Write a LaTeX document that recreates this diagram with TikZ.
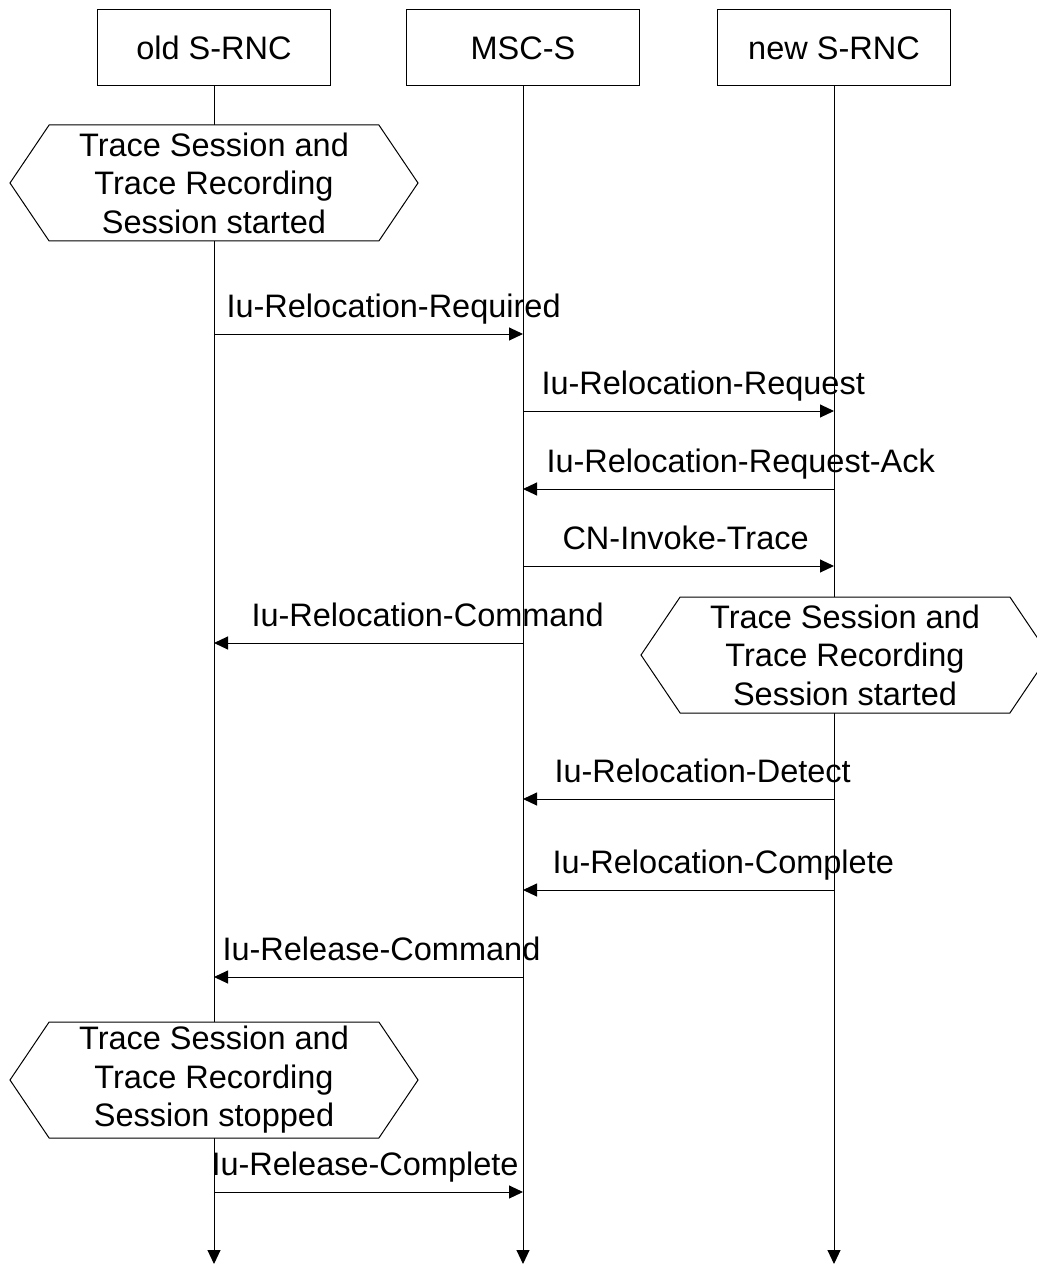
\documentclass[tikz,border=0pt]{standalone}
\usepackage{fontspec}
\setmainfont{Liberation Sans}
\usetikzlibrary{arrows.meta}
\usetikzlibrary{shapes.symbols}
\usetikzlibrary{calc}
\usetikzlibrary{positioning}

\begin{document}
\begin{tikzpicture}[x=1pt,y=-1pt,line width=1pt,
  font=\fontsize{32.5}{38.5}\selectfont,
  head/.style={draw,minimum width=233pt,minimum height=76pt,inner sep=0pt},
  cond/.style={draw,fill=white,shape=signal,signal to=west and east,signal pointer angle=112,
    minimum width=408pt,minimum height=116pt,inner sep=0pt,align=center},
  msg/.style={-{Triangle[length=14pt,width=13pt]}},
  lbl/.style={anchor=base west,inner sep=0pt}]
\useasboundingbox (0,0) rectangle (1036,1265);
\foreach \n/\x/\t in {old/214/old S-RNC, msc/523/MSC-S, new/834/new S-RNC} {
\node (\n) at (\x,48) [head] {\t};
\coordinate (\n end) at (\x,1264);
\draw[msg] (\n) -- (\n end);
}
\node (c1) at (214,183) [cond] {Trace Session and\\Trace Recording\\Session started};
\node (c2) at (845,655) [cond] {Trace Session and\\Trace Recording\\Session started};
\node (c3) at (214,1080) [cond] {Trace Session and\\Trace Recording\\Session stopped};
\foreach \y/\a/\b/\lx/\t [count=\i] in {
  334/old/msc/226/Iu-Relocation-Required,
  411/msc/new/541/Iu-Relocation-Request,
  489/new/msc/546/Iu-Relocation-Request-Ack,
  566/msc/new/562/CN-Invoke-Trace,
  643/msc/old/251/Iu-Relocation-Command,
  799/new/msc/554/Iu-Relocation-Detect,
  890/new/msc/552/Iu-Relocation-Complete,
  977/msc/old/222/Iu-Release-Command,
  1192/old/msc/211/Iu-Release-Complete} {
\draw[msg] (\a |- 0,\y) -- (\b |- 0,\y);
\node (l\i) at (\lx,\y-17) [lbl] {\t};
}
\end{tikzpicture}
\end{document}
